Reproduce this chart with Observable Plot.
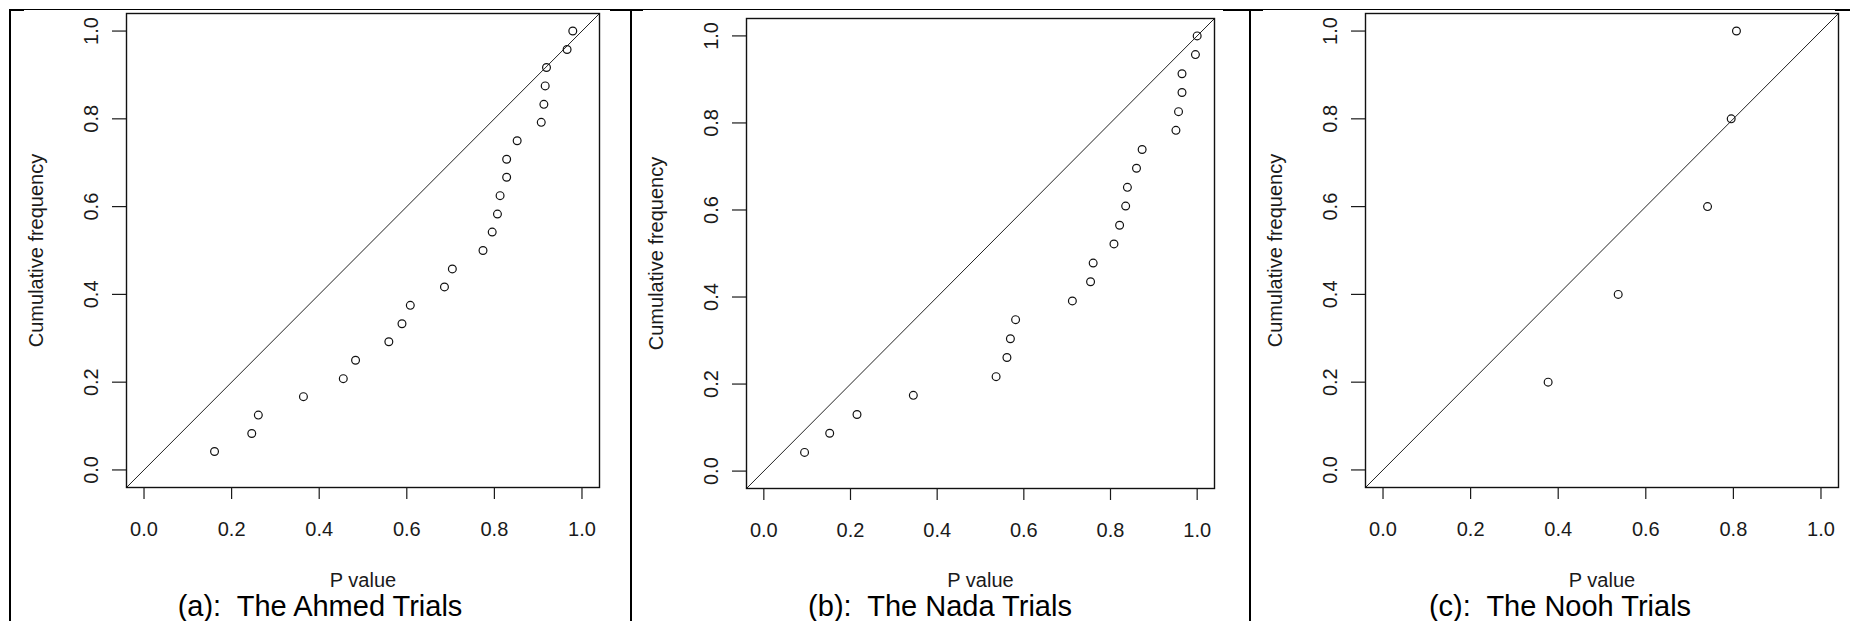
<!DOCTYPE html>
<html>
<head>
<meta charset="utf-8">
<script src="https://cdn.jsdelivr.net/npm/d3@7"></script>
<script src="https://cdn.jsdelivr.net/npm/@observablehq/plot@0.6"></script>
<style>
  html, body { margin: 0; padding: 0; background: #fff; }
  #page { position: relative; width: 1850px; height: 621px; overflow: hidden; background: #fff; font-family: "Liberation Sans", Arial, sans-serif; }
  .panel { position: absolute; top: 0; }
  .panel svg { display: block; max-width: none; overflow: visible; }
  .caption { position: absolute; font-size: 29px; line-height: 29px; white-space: pre; color: #000; transform: translateX(-50%); }
  .rule { position: absolute; background: #000; }
</style>
</head>
<body>
<div id="page"></div>
<script>
// ---------- data ----------
const ahmedP = [0.161, 0.246, 0.261, 0.364, 0.455, 0.483, 0.559, 0.589, 0.608, 0.686, 0.704, 0.774,
                0.795, 0.807, 0.813, 0.828, 0.828, 0.852, 0.907, 0.913, 0.916, 0.919, 0.966, 0.979];
const ahmedCum = [0.042, 0.083, 0.125, 0.167, 0.208, 0.250, 0.292, 0.333, 0.375, 0.417, 0.458, 0.500,
                  0.542, 0.583, 0.625, 0.667, 0.708, 0.750, 0.792, 0.833, 0.875, 0.917, 0.958, 1.000];

const nadaP = [0.094, 0.152, 0.215, 0.345, 0.536, 0.561, 0.569, 0.581, 0.712, 0.754, 0.760, 0.808,
               0.821, 0.835, 0.839, 0.860, 0.873, 0.951, 0.957, 0.965, 0.965, 0.996, 1.000];
const nadaCum = [0.043, 0.087, 0.130, 0.174, 0.217, 0.261, 0.304, 0.348, 0.391, 0.435, 0.478, 0.522,
                 0.565, 0.609, 0.652, 0.696, 0.739, 0.783, 0.826, 0.870, 0.913, 0.957, 1.000];

const noohP = [0.377, 0.537, 0.741, 0.795, 0.807];
const noohCum = [0.2, 0.4, 0.6, 0.8, 1.0];

const tickValues = [0, 0.2, 0.4, 0.6, 0.8, 1.0];
const axisDomain = [-0.04, 1.04];
const xTitle = "P value";
const yTitle = "Cumulative frequency";
const captions = ["(a):  The Ahmed Trials", "(b):  The Nada Trials", "(c):  The Nooh Trials"];

// ---------- layout ----------
const panels = [
  {p: ahmedP, cum: ahmedCum, left: 12, width: 616, box: [126, 599, 13, 487], cap: 320},
  {p: nadaP,  cum: nadaCum,  left: 634, width: 612, box: [746, 1214, 18, 488], cap: 940},
  {p: noohP,  cum: noohCum,  left: 1253, width: 597, box: [1365, 1838, 13, 487], cap: 1560}
];
const SVG_H = 600;
const fmt = d3.format(".1f");
const page = document.getElementById("page");

panels.forEach((cfg, i) => {
  const [bl, br, bt, bb] = cfg.box;
  const data = cfg.p.map((v, k) => ({p: v, c: cfg.cum[k]}));
  const chart = Plot.plot({
    width: cfg.width,
    height: SVG_H,
    marginLeft: bl - cfg.left,
    marginRight: cfg.left + cfg.width - br,
    marginTop: bt,
    marginBottom: SVG_H - bb,
    style: {fontFamily: "'Liberation Sans', Arial, sans-serif", fontSize: "20px", color: "#1a1a1a", background: "transparent", overflow: "visible"},
    x: {domain: axisDomain},
    y: {domain: axisDomain},
    marks: [
      Plot.line(axisDomain, {x: d => d, y: d => d, stroke: "#222", strokeWidth: 1}),
      Plot.dot(data, {x: "p", y: "c", r: 3.9, stroke: "#111", strokeWidth: 1.2, fill: "none"}),
      Plot.frame({stroke: "#111", strokeWidth: 1.4}),
      Plot.axisX({ticks: tickValues, tickFormat: fmt, tickSize: 12, tickPadding: 22, label: null, fontSize: 20, strokeWidth: 1.2}),
      Plot.axisY({ticks: tickValues, tickFormat: fmt, tickSize: 14, tickPadding: 15, tickRotate: -90, label: null, fontSize: 20, strokeWidth: 1.2}),
      Plot.text([xTitle], {frameAnchor: "bottom", dy: 586 - bb, lineAnchor: "bottom", textAnchor: "middle", fontSize: 20}),
      Plot.text([yTitle], {frameAnchor: "left", dx: -89.5, rotate: -90, lineAnchor: "middle", textAnchor: "middle", fontSize: 20})
    ]
  });
  const wrap = document.createElement("div");
  wrap.className = "panel";
  wrap.style.left = cfg.left + "px";
  wrap.style.width = cfg.width + "px";
  wrap.appendChild(chart);
  page.appendChild(wrap);

  const cap = document.createElement("div");
  cap.className = "caption";
  cap.style.left = cfg.cap + "px";
  cap.style.top = "592px";
  cap.textContent = captions[i];
  page.appendChild(cap);
});

// table borders
function rule(x, y, w, h) {
  const r = document.createElement("div");
  r.className = "rule";
  Object.assign(r.style, {left: x + "px", top: y + "px", width: w + "px", height: h + "px"});
  page.appendChild(r);
}
rule(9, 9, 1839, 1);
rule(9, 9, 15, 2);
rule(610, 9, 33, 2);
rule(1223, 9, 40, 2);
rule(1835, 9, 15, 2);
rule(9, 9, 2, 612);
rule(630, 9, 2, 612);
rule(1249, 9, 2, 612);
</script>
</body>
</html>
